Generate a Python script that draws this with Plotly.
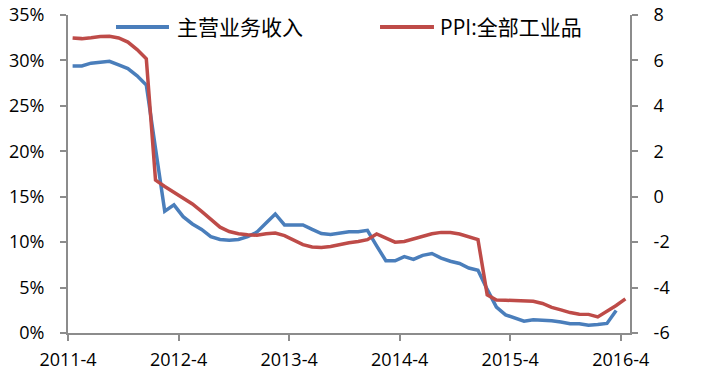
import pandas as pd
import plotly.graph_objects as go

# Monthly observations, 2011-4 .. 2016-4
months = [f"{d.year}-{d.month}" for d in pd.date_range("2011-04-01", "2016-04-01", freq="MS")]

# 主营业务收入 growth, % (left axis); last month not yet published
revenue_growth = [
    29.4, 29.4, 29.7, 29.8, 29.9, 29.5, 29.1, 28.3, 27.3, 20.3,
    13.4, 14.1, 12.8, 12.0, 11.4, 10.6, 10.3, 10.2, 10.3, 10.6,
    11.1, 12.1, 13.1, 11.9, 11.9, 11.9, 11.4, 10.95, 10.85, 11.0,
    11.15, 11.15, 11.3, 9.6, 7.95, 7.95, 8.4, 8.1, 8.55, 8.75,
    8.25, 7.9, 7.65, 7.15, 6.9, 4.8, 2.85, 2.0, 1.6, 1.3,
    1.45, 1.4, 1.35, 1.2, 1.02, 1.02, 0.85, 0.93, 1.05, 2.47,
]

# PPI: 全部工业品 (right axis)
ppi = [
    6.99, 6.96, 7.0, 7.05, 7.06, 6.99, 6.81, 6.48, 6.07, 0.73,
    0.45, 0.19, -0.06, -0.32, -0.65, -1.01, -1.34, -1.53, -1.63, -1.67,
    -1.70, -1.63, -1.60, -1.71, -1.92, -2.11, -2.21, -2.24, -2.19, -2.10,
    -2.03, -1.97, -1.89, -1.64, -1.80, -2.00, -1.97, -1.85, -1.75, -1.63,
    -1.57, -1.58, -1.64, -1.75, -1.89, -4.32, -4.55, -4.56, -4.57, -4.58,
    -4.60, -4.70, -4.87, -4.98, -5.10, -5.17, -5.18, -5.29, -5.05, -4.79,
    -4.50,
]

x_tick_labels = ["2011-4", "2012-4", "2013-4", "2014-4", "2015-4", "2016-4"]
left_ticks = [0, 5, 10, 15, 20, 25, 30, 35]
left_tick_text = ["0%", "5%", "10%", "15%", "20%", "25%", "30%", "35%"]
right_ticks = [-6, -4, -2, 0, 2, 4, 6, 8]
right_tick_text = ["-6", "-4", "-2", "0", "2", "4", "6", "8"]

series_names = ["主营业务收入", "PPI:全部工业品"]
colors = ["#4A7EBB", "#BE4B48"]

idx_rev = list(range(len(revenue_growth)))
idx_ppi = list(range(len(ppi)))
# year ticks sit on the boundary before each labelled month
x_tick_vals = [months.index(m) - 0.5 for m in x_tick_labels]

TICK_FONT = dict(family="Open Sans, Noto Sans CJK SC, sans-serif", size=18, color="#000000")
AXIS_GREY = "#8C8C8C"

fig = go.Figure()
fig.add_trace(go.Scatter(
    x=idx_rev, y=revenue_growth, name=series_names[0], mode="lines",
    line=dict(color=colors[0], width=3.5), text=months[:len(revenue_growth)],
    yaxis="y",
))
fig.add_trace(go.Scatter(
    x=idx_ppi, y=ppi, name=series_names[1], mode="lines",
    line=dict(color=colors[1], width=3.5), text=months,
    yaxis="y2",
))

axis_common = dict(
    showgrid=False, zeroline=False, automargin=False,
    showline=True, linecolor=AXIS_GREY, linewidth=2,
    ticks="outside", ticklen=6, tickwidth=2, tickcolor=AXIS_GREY,
    tickfont=TICK_FONT,
)

fig.update_layout(
    width=701, height=372,
    margin=dict(l=68, r=71, t=15, b=39, autoexpand=False),
    paper_bgcolor="white", plot_bgcolor="white",
    showlegend=False,
    xaxis=dict(
        range=[-0.5, len(months) - 0.5],
        tickvals=x_tick_vals, ticktext=x_tick_labels,
        ticklabelstandoff=3,
        **axis_common,
    ),
    yaxis=dict(
        range=[0, 35], tickvals=left_ticks, ticktext=left_tick_text,
        ticklabelstandoff=12,
        **axis_common,
    ),
    yaxis2=dict(
        range=[-6, 8], tickvals=right_ticks, ticktext=right_tick_text,
        overlaying="y", side="right",
        ticklabelstandoff=12,
        **axis_common,
    ),
)

# Legend row across the top of the plot area
legend_items = [
    (0.0854, 0.1797, 0.1904),
    (0.5552, 0.6512, 0.6584),
]
legend_y = 0.962
for (x0, x1, xt), name, color in zip(legend_items, series_names, colors):
    fig.add_shape(type="line", xref="paper", yref="paper",
                  x0=x0, x1=x1, y0=legend_y, y1=legend_y,
                  line=dict(color=color, width=4))
    fig.add_annotation(xref="paper", yref="paper", x=xt, y=legend_y,
                       text=name, showarrow=False, xanchor="left", yanchor="middle",
                       font=dict(family="Open Sans, Noto Sans CJK SC, sans-serif",
                                 size=21, color="#000000"))

fig.write_html("out.html")
